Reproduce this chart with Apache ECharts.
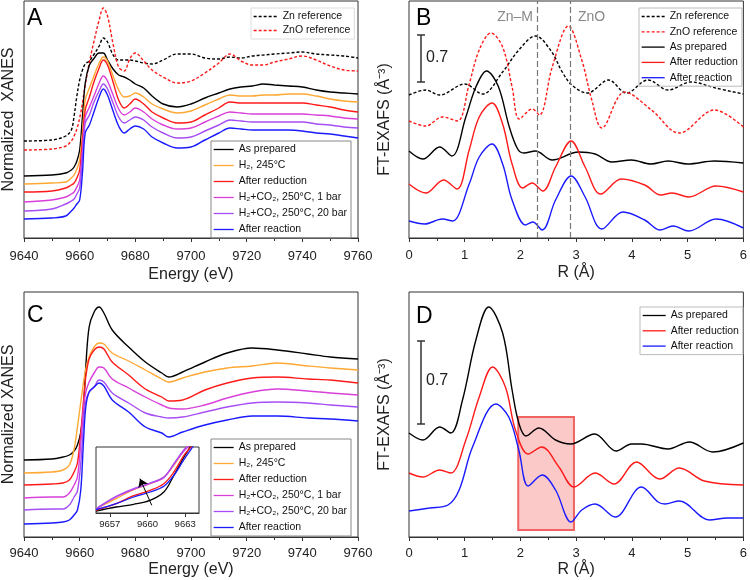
<!DOCTYPE html>
<html>
<head>
<meta charset="utf-8">
<script src="https://cdn.jsdelivr.net/npm/echarts@6/dist/echarts.min.js"></script>
<style>
  html, body { margin: 0; padding: 0; background: #fff; }
  #chart { width: 750px; height: 580px; }
</style>
</head>
<body>
<div id="chart"></div>
<script>
// ---- panel A: XANES, energies (eV) and offset intensities
var eA = [9640, 9650, 9655, 9657, 9658, 9659, 9660, 9661, 9662, 9663.5, 9665, 9667, 9668.5, 9670, 9672, 9674, 9676, 9678, 9680, 9683, 9686, 9690, 9695, 9700, 9705, 9710, 9714, 9718, 9722, 9726, 9730, 9735, 9740, 9745, 9750, 9755, 9760];
var znRefA = [0.97, 0.98, 1.02, 1.08, 1.22, 1.42, 1.58, 1.68, 1.74, 1.77, 1.83, 1.92, 2.00, 1.96, 1.83, 1.78, 1.78, 1.78, 1.77, 1.75, 1.74, 1.78, 1.84, 1.84, 1.80, 1.79, 1.81, 1.80, 1.82, 1.83, 1.84, 1.85, 1.86, 1.84, 1.83, 1.82, 1.80];
var znoRefA = [0.88, 0.89, 0.92, 0.97, 1.02, 1.09, 1.20, 1.35, 1.53, 1.76, 1.95, 2.18, 2.30, 2.22, 1.94, 1.71, 1.67, 1.79, 1.85, 1.77, 1.68, 1.61, 1.55, 1.57, 1.65, 1.75, 1.84, 1.77, 1.73, 1.73, 1.76, 1.79, 1.82, 1.78, 1.72, 1.68, 1.67];
var prepA = [0.62, 0.63, 0.65, 0.68, 0.71, 0.77, 0.88, 1.21, 1.55, 1.73, 1.79, 1.85, 1.85, 1.78, 1.69, 1.63, 1.61, 1.58, 1.54, 1.50, 1.42, 1.34, 1.31, 1.34, 1.40, 1.45, 1.49, 1.51, 1.52, 1.54, 1.53, 1.52, 1.51, 1.48, 1.46, 1.45, 1.44];
var h2A = [0.54, 0.55, 0.56, 0.60, 0.63, 0.69, 0.78, 1.05, 1.38, 1.50, 1.61, 1.75, 1.81, 1.77, 1.62, 1.48, 1.41, 1.42, 1.45, 1.41, 1.34, 1.29, 1.25, 1.27, 1.33, 1.39, 1.43, 1.42, 1.42, 1.43, 1.43, 1.44, 1.44, 1.42, 1.39, 1.37, 1.36];
var redA = [0.46, 0.47, 0.50, 0.53, 0.55, 0.60, 0.68, 0.98, 1.28, 1.41, 1.55, 1.70, 1.78, 1.73, 1.56, 1.38, 1.30, 1.34, 1.39, 1.34, 1.26, 1.20, 1.15, 1.16, 1.23, 1.30, 1.36, 1.35, 1.35, 1.35, 1.35, 1.35, 1.35, 1.33, 1.31, 1.28, 1.26];
var bar1A = [0.36, 0.38, 0.41, 0.44, 0.46, 0.51, 0.58, 0.88, 1.21, 1.31, 1.41, 1.55, 1.62, 1.57, 1.43, 1.29, 1.23, 1.26, 1.30, 1.26, 1.19, 1.13, 1.09, 1.10, 1.16, 1.22, 1.26, 1.25, 1.24, 1.24, 1.24, 1.24, 1.24, 1.23, 1.22, 1.20, 1.19];
var bar20A = [0.27, 0.29, 0.34, 0.37, 0.39, 0.44, 0.50, 0.81, 1.15, 1.23, 1.35, 1.47, 1.54, 1.49, 1.35, 1.21, 1.15, 1.18, 1.21, 1.18, 1.11, 1.05, 1.00, 1.01, 1.07, 1.13, 1.18, 1.17, 1.16, 1.16, 1.16, 1.16, 1.16, 1.14, 1.13, 1.11, 1.10];
var reacA = [0.19, 0.20, 0.22, 0.27, 0.30, 0.34, 0.38, 0.65, 1.05, 1.13, 1.25, 1.41, 1.49, 1.43, 1.27, 1.12, 1.05, 1.09, 1.12, 1.09, 1.01, 0.95, 0.90, 0.91, 0.98, 1.05, 1.10, 1.09, 1.08, 1.08, 1.08, 1.08, 1.07, 1.05, 1.04, 1.02, 1.00];

// ---- panel B: FT-EXAFS, R (Å) and offset magnitudes
var rZnRefB = [0, 0.3, 0.55, 1.0, 1.32, 1.68, 1.97, 2.27, 2.55, 2.75, 2.92, 3.2, 3.58, 3.9, 4.29, 4.65, 5.06, 5.5, 6.0];
var znRefB = [1.43, 1.48, 1.43, 1.54, 1.44, 1.66, 1.88, 2.02, 1.87, 1.66, 1.53, 1.45, 1.58, 1.45, 1.58, 1.48, 1.56, 1.50, 1.44];
var rZnoRefB = [0, 0.3, 0.6, 0.87, 1.08, 1.26, 1.47, 1.68, 1.85, 1.98, 2.21, 2.34, 2.57, 2.86, 3.1, 3.28, 3.46, 3.87, 4.35, 4.85, 5.48, 6.0];
var znoRefB = [1.17, 1.12, 1.21, 1.17, 1.54, 1.88, 2.05, 1.91, 1.51, 1.19, 1.29, 1.23, 1.71, 2.12, 1.78, 1.38, 1.10, 1.46, 1.28, 1.05, 1.28, 1.11];
var rPrepB = [0, 0.25, 0.55, 0.77, 1.02, 1.2, 1.39, 1.6, 1.8, 1.95, 2.06, 2.27, 2.57, 3.04, 3.34, 3.64, 3.99, 4.34, 4.65, 5.0, 5.48, 6.0];
var prepB = [0.87, 0.79, 0.91, 0.82, 1.21, 1.51, 1.67, 1.52, 1.11, 0.89, 0.85, 0.87, 0.78, 0.86, 0.84, 0.76, 0.78, 0.74, 0.77, 0.74, 0.77, 0.75];
var rRedB = [0, 0.3, 0.62, 0.86, 1.08, 1.26, 1.49, 1.68, 1.85, 2.04, 2.21, 2.4, 2.63, 2.91, 3.16, 3.44, 3.81, 4.23, 4.52, 4.72, 5.02, 5.51, 6.0];
var redB = [0.54, 0.45, 0.58, 0.49, 0.88, 1.21, 1.35, 1.14, 0.74, 0.50, 0.55, 0.47, 0.71, 0.97, 0.71, 0.44, 0.59, 0.53, 0.43, 0.45, 0.41, 0.52, 0.46];
var rReacB = [0, 0.28, 0.6, 0.78, 1.08, 1.26, 1.49, 1.68, 1.85, 2.09, 2.22, 2.39, 2.63, 2.91, 3.16, 3.46, 3.84, 4.23, 4.5, 4.74, 5.02, 5.51, 6.0];
var reacB = [0.17, 0.14, 0.19, 0.17, 0.54, 0.81, 0.94, 0.74, 0.38, 0.13, 0.16, 0.08, 0.38, 0.62, 0.41, 0.09, 0.26, 0.18, 0.08, 0.12, 0.07, 0.19, 0.10];

// ---- panel C: in situ XANES
var eC = [9640, 9650, 9654, 9656.3, 9658, 9659.2, 9660.4, 9661.4, 9662.2, 9663.4, 9665.2, 9667, 9668.7, 9671.7, 9677.6, 9683.6, 9689.5, 9692, 9697, 9705, 9713, 9722, 9731, 9742, 9750, 9760];
var prepC = [0.77, 0.78, 0.80, 0.82, 0.86, 0.92, 1.05, 1.30, 1.70, 2.10, 2.25, 2.30, 2.24, 2.07, 1.90, 1.75, 1.64, 1.60, 1.65, 1.75, 1.84, 1.89, 1.87, 1.83, 1.80, 1.78];
var h2C = [0.64, 0.65, 0.67, 0.72, 0.88, 1.10, 1.35, 1.55, 1.68, 1.80, 1.90, 1.94, 1.93, 1.84, 1.76, 1.67, 1.58, 1.55, 1.59, 1.65, 1.69, 1.71, 1.74, 1.71, 1.69, 1.67];
var redC = [0.52, 0.53, 0.54, 0.57, 0.65, 0.74, 1.04, 1.37, 1.60, 1.78, 1.87, 1.90, 1.88, 1.75, 1.62, 1.48, 1.40, 1.36, 1.37, 1.47, 1.54, 1.59, 1.60, 1.58, 1.57, 1.54];
var bar1C = [0.39, 0.40, 0.40, 0.44, 0.52, 0.60, 0.94, 1.30, 1.45, 1.55, 1.64, 1.70, 1.69, 1.58, 1.49, 1.40, 1.32, 1.29, 1.28, 1.32, 1.39, 1.45, 1.48, 1.46, 1.44, 1.42];
var bar20C = [0.27, 0.28, 0.28, 0.32, 0.40, 0.46, 0.74, 1.14, 1.36, 1.45, 1.50, 1.57, 1.55, 1.44, 1.34, 1.24, 1.20, 1.19, 1.20, 1.25, 1.30, 1.34, 1.35, 1.34, 1.32, 1.30];
var reacC = [0.13, 0.14, 0.15, 0.17, 0.22, 0.27, 0.47, 0.97, 1.30, 1.45, 1.50, 1.54, 1.51, 1.37, 1.25, 1.10, 1.04, 1.00, 1.05, 1.12, 1.17, 1.21, 1.21, 1.19, 1.18, 1.16];

// ---- inset of panel C (pre-edge)
var eIn = [9655.9, 9657.5, 9658.9, 9660.2, 9661.3, 9662.1, 9662.9, 9663.5, 9664.1];
var inTicks = [9657, 9660, 9663];
var prepIn = [0.06, 0.18, 0.26, 0.38, 0.63, 1.13, 1.68, 2.06, 2.68];
var h2In = [0.13, 0.43, 0.70, 0.88, 1.08, 1.43, 1.88, 2.13, 2.48];
var redIn = [0.08, 0.28, 0.52, 0.68, 0.88, 1.23, 1.73, 2.00, 2.38];
var bar1In = [0.11, 0.48, 0.71, 0.88, 1.06, 1.46, 1.86, 2.08, 2.43];
var bar20In = [0.13, 0.50, 0.73, 0.90, 1.08, 1.48, 1.90, 2.13, 2.48];
var reacIn = [0.10, 0.28, 0.48, 0.63, 0.80, 1.13, 1.60, 1.93, 2.28];

// ---- panel D: FT-EXAFS
var rPrepD = [0, 0.25, 0.55, 0.75, 0.96, 1.2, 1.43, 1.68, 1.85, 1.97, 2.1, 2.33, 2.63, 2.9, 3.33, 3.72, 3.99, 4.17, 4.65, 5.03, 5.45, 6.0];
var prepD = [1.04, 0.97, 1.10, 1.04, 1.37, 1.97, 2.30, 2.04, 1.47, 1.14, 1.01, 1.09, 0.97, 0.93, 1.03, 0.86, 0.93, 0.93, 0.88, 0.95, 0.85, 0.94];
var rRedD = [0, 0.25, 0.55, 0.75, 1.02, 1.26, 1.5, 1.73, 1.91, 2.14, 2.38, 2.69, 2.96, 3.34, 3.68, 4.08, 4.5, 4.85, 5.3, 6.0];
var redD = [0.64, 0.60, 0.67, 0.64, 0.97, 1.40, 1.70, 1.50, 1.07, 0.83, 0.90, 0.70, 0.50, 0.64, 0.53, 0.75, 0.58, 0.69, 0.56, 0.52];
var rReacD = [0, 0.37, 0.7, 0.9, 1.14, 1.56, 1.79, 1.97, 2.14, 2.39, 2.63, 2.91, 3.1, 3.34, 3.7, 4.17, 4.47, 4.59, 4.85, 5.39, 5.71, 6.0];
var reacD = [0.26, 0.29, 0.32, 0.47, 0.90, 1.33, 1.20, 0.87, 0.51, 0.62, 0.47, 0.15, 0.27, 0.33, 0.20, 0.50, 0.35, 0.33, 0.36, 0.17, 0.19, 0.19];
var boxD = [1.96, 2.96];      // highlighted R range
var refLinesB = [2.3, 2.9];   // Zn-M and ZnO distances

var names = ["As prepared", "H₂, 245°C", "After reduction", "H₂+CO₂, 250°C, 1 bar", "H₂+CO₂, 250°C, 20 bar", "After reaction"];
var refNames = ["Zn reference", "ZnO reference"];
var colors = ["#000000", "#FFA833", "#FF1A1A", "#D940D9", "#A64DF5", "#1A1AFF"];

var FONT = '"Liberation Sans", Arial, sans-serif';

function zip(xs, ys) {
  return xs.map(function (x, i) { return [x, ys[i]]; });
}

function curve(name, xs, ys, color, idx, dashed) {
  return {
    name: name, type: "line", xAxisIndex: idx, yAxisIndex: idx,
    data: zip(xs, ys), symbol: "none", showSymbol: false, smooth: 0.35,
    lineStyle: { color: color, width: 1.4, type: dashed ? [3, 2] : "solid" },
    itemStyle: { color: color }, silent: true
  };
}

function xAxisFor(idx, min, max, interval, name, margin, gap) {
  return {
    gridIndex: idx, type: "value", min: min, max: max, interval: interval,
    name: name, nameLocation: "middle", nameGap: gap,
    nameTextStyle: { fontSize: 16, color: "#222", fontFamily: FONT },
    axisLine: { show: true, onZero: false, lineStyle: { color: "#333" } },
    axisTick: { show: true, length: 4, lineStyle: { color: "#333" } },
    minorTick: { show: true, splitNumber: 2, length: 3, lineStyle: { color: "#333" } },
    axisLabel: {
      fontSize: 13, color: "#222", margin: margin, fontFamily: FONT,
      showMinLabel: true, showMaxLabel: true,
      formatter: function (v) { return String(v); }
    },
    splitLine: { show: false }
  };
}

function yAxisFor(idx, max, name, gap) {
  return {
    gridIndex: idx, type: "value", min: 0, max: max,
    name: name, nameLocation: "middle", nameGap: gap,
    nameTextStyle: { fontSize: 16, color: "#222", fontFamily: FONT },
    axisLine: { show: false }, axisTick: { show: false },
    axisLabel: { show: false }, splitLine: { show: false }
  };
}

function legendAt(data, left, top, w, h, gap, border) {
  return {
    orient: "vertical", left: left, top: top, data: data,
    itemWidth: w, itemHeight: h, itemGap: gap, padding: [3, 4, 3, 2],
    borderColor: border, borderWidth: 1, selectedMode: false,
    itemStyle: { opacity: 0 },
    lineStyle: { width: 1.3 },
    textStyle: { fontSize: 10.5, color: "#111", fontFamily: FONT }
  };
}

var series = [];
// A
series.push(curve(refNames[0], eA, znRefA, "#000", 0, true));
series.push(curve(refNames[1], eA, znoRefA, "#FF1A1A", 0, true));
[prepA, h2A, redA, bar1A, bar20A, reacA].forEach(function (d, i) {
  series.push(curve(names[i], eA, d, colors[i], 0));
});
// B
var zn = curve(refNames[0], rZnRefB, znRefB, "#000", 1, true);
zn.markLine = {
  silent: true, symbol: "none", label: { show: false },
  lineStyle: { color: "#777", width: 1.2, type: [6, 3] },
  data: refLinesB.map(function (v) { return { xAxis: v }; })
};
series.push(zn);
series.push(curve(refNames[1], rZnoRefB, znoRefB, "#FF1A1A", 1, true));
series.push(curve(names[0], rPrepB, prepB, colors[0], 1));
series.push(curve(names[2], rRedB, redB, colors[2], 1));
series.push(curve(names[5], rReacB, reacB, colors[5], 1));
// C
[prepC, h2C, redC, bar1C, bar20C, reacC].forEach(function (d, i) {
  series.push(curve(names[i], eC, d, colors[i], 2));
});
// D
series.push(curve(names[0], rPrepD, prepD, colors[0], 3));
series.push(curve(names[2], rRedD, redD, colors[2], 3));
series.push(curve(names[5], rReacD, reacD, colors[5], 3));
series.push({
  type: "line", xAxisIndex: 3, yAxisIndex: 3, data: [[2.5, 0.5]], symbol: "none",
  lineStyle: { opacity: 0 }, silent: true, z: 10,
  markArea: {
    silent: true,
    itemStyle: { color: "rgba(245,90,90,0.33)", borderColor: "#F06464", borderWidth: 2 },
    data: [[{ coord: [boxD[0], 0.07] }, { coord: [boxD[1], 1.2] }]]
  }
});
// inset
[prepIn, h2In, redIn, bar1In, bar20In, reacIn].forEach(function (d, i) {
  var s = curve(names[i], eIn, d, colors[i], 4);
  s.lineStyle.width = 1.3;
  series.push(s);
});
series[series.length - 1].markLine = {
  silent: true, symbol: ["none", "arrow"], symbolSize: 8, label: { show: false },
  lineStyle: { color: "#000", width: 1, type: "solid" },
  data: [[{ coord: [9660.34, 0.23] }, { coord: [9659.4, 1.03] }]]
};

var inX = xAxisFor(4, 9655.9, 9664.1, null, "", 6, 0);
delete inX.interval;
inX.axisLabel.fontSize = 9.5;
inX.axisLabel.customValues = inTicks;
inX.axisTick.customValues = inTicks;
inX.minorTick.show = false;

var myChart = echarts.init(document.getElementById("chart"), null, { renderer: "canvas" });

var option = {
  animation: false,
  backgroundColor: "#fff",
  grid: [
    { left: 21, top: 1, width: 337, height: 237, show: true, borderColor: "#333", borderWidth: 1 },
    { left: 409, top: 1, width: 337, height: 237, show: true, borderColor: "#333", borderWidth: 1 },
    { left: 21, top: 292, width: 337, height: 245, show: true, borderColor: "#333", borderWidth: 1 },
    { left: 409, top: 292, width: 337, height: 245, show: true, borderColor: "#333", borderWidth: 1 },
    { left: 96, top: 447, width: 103, height: 66, show: true, borderColor: "#333", borderWidth: 1, backgroundColor: "#fff" }
  ],
  xAxis: [
    xAxisFor(0, 9640, 9760, 20, "Energy (eV)", 12, 29),
    xAxisFor(1, 0, 6, 1, "R (Å)", 11, 27),
    xAxisFor(2, 9640, 9760, 20, "Energy (eV)", 10, 25),
    xAxisFor(3, 0, 6, 1, "R (Å)", 10, 25),
    inX
  ],
  yAxis: [
    yAxisFor(0, 2.37, "Normalized  XANES", 7),
    yAxisFor(1, 2.37, "FT-EXAFS (Å⁻³)", 16),
    yAxisFor(2, 2.45, "Normalized XANES", 7),
    yAxisFor(3, 2.45, "FT-EXAFS (Å⁻³)", 16),
    { gridIndex: 4, min: 0, max: 1.98, show: false }
  ],
  legend: [
    legendAt(names, 211, 141, 20, 10, 5, "#888"),
    legendAt(refNames, 251, 8, 24, 10, 3, "#ddd"),
    legendAt(refNames.concat([names[0], names[2], names[5]]), 639, 8, 23, 9, 4.3, "#bbb"),
    legendAt(names, 211, 439, 20, 10, 5, "#888"),
    legendAt([names[0], names[2], names[5]], 640, 307, 23, 9, 4.3, "#bbb")
  ],
  graphic: [
    { type: "text", left: 27, top: 7, style: { text: "A", fontSize: 23, fill: "#000", fontFamily: FONT } },
    { type: "text", left: 416, top: 7, style: { text: "B", fontSize: 23, fill: "#000", fontFamily: FONT } },
    { type: "text", left: 27, top: 304, style: { text: "C", fontSize: 23, fill: "#000", fontFamily: FONT } },
    { type: "text", left: 416, top: 305, style: { text: "D", fontSize: 23, fill: "#000", fontFamily: FONT } },
    { type: "text", x: 533, y: 17, style: { text: "Zn–M", fontSize: 14, fill: "#888", align: "right", verticalAlign: "middle", fontFamily: FONT } },
    { type: "text", x: 578, y: 17, style: { text: "ZnO", fontSize: 14, fill: "#888", align: "left", verticalAlign: "middle", fontFamily: FONT } },
    { type: "line", shape: { x1: 421, y1: 35, x2: 421, y2: 82 }, style: { stroke: "#333", lineWidth: 1.5 } },
    { type: "line", shape: { x1: 417, y1: 35, x2: 425, y2: 35 }, style: { stroke: "#333", lineWidth: 1.5 } },
    { type: "line", shape: { x1: 417, y1: 82, x2: 425, y2: 82 }, style: { stroke: "#333", lineWidth: 1.5 } },
    { type: "text", x: 426, y: 58, style: { text: "0.7", fontSize: 16, fill: "#222", verticalAlign: "middle", fontFamily: FONT } },
    { type: "line", shape: { x1: 421, y1: 341, x2: 421, y2: 424 }, style: { stroke: "#333", lineWidth: 1.5 } },
    { type: "line", shape: { x1: 417, y1: 341, x2: 425, y2: 341 }, style: { stroke: "#333", lineWidth: 1.5 } },
    { type: "line", shape: { x1: 417, y1: 424, x2: 425, y2: 424 }, style: { stroke: "#333", lineWidth: 1.5 } },
    { type: "text", x: 426, y: 381, style: { text: "0.7", fontSize: 16, fill: "#222", verticalAlign: "middle", fontFamily: FONT } }
  ],
  series: series
};

myChart.setOption(option);
</script>
</body>
</html>
